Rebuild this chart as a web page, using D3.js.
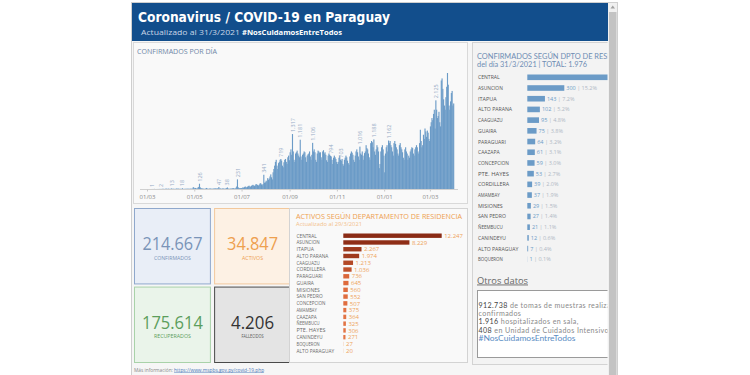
<!DOCTYPE html>
<html><head><meta charset="utf-8">
<script src="https://cdn.jsdelivr.net/npm/d3@7"></script>
<style>body{margin:0;background:#fff}svg{display:block}</style>
</head><body>
<svg id="c" width="750" height="375"></svg>
<script>
// ---------- DATA ----------
const startDate = "2020-03-01";
const mar2020 = [0,0,0,0,0,0,1,0,1,3,0,0,1,1,1,2,2,2,1,5,4,5,0,5,11,4,4,8,5,1,7];
const apr2020 = [13,3,7,4,3,2,9,14,4,9,5,2,8,1,18,4,2,6,5,4,10,5,7,5,6,11,5,10,45,30];
const may2020 = [15,25,10,12,35,50,126,40,20,15,10,8,5,6,10,25,12,8,5,10,12,8,7,6,10,8,20,12,10,14,15];
const jun2020 = [47,10,12,8,6,15,10,8,5,14,20,38,12,8,6,9,10,14,20,18,10,8,30,60,231,40,25,20,18,22];
const jul2020 = [25,40,30,45,60,50,35,55,70,80,60,55,75,90,100,85,70,90,120,110,95,80,100,130,140,110,90,120,341,150,160];
const aug2020 = [200,180,260,220,250,300,350,280,230,400,480,560,650,700,560,480,620,650,700,719,680,560,520,640,700,720,650,600,760,800,690];
const sep2020 = [880,950,820,1317,900,700,650,850,880,920,850,800,760,1181,780,700,820,850,900,880,760,650,800,830,850,900,780,700,820,1106];
const oct2020 = [900,950,880,700,650,850,920,900,870,880,760,700,900,930,850,880,820,690,650,800,850,820,794,780,700,600,750,800,760,720,650];
const nov2020 = [600,650,750,800,703,680,720,600,560,700,750,800,760,680,620,580,780,850,900,870,820,700,650,800,900,950,880,780,700,1016];
const dec2020 = [850,820,900,800,700,860,900,1050,980,950,850,760,700,1100,1150,1120,1000,1188,900,820,950,1050,1000,900,500,600,900,1000,1050,950,800];
const jan2021 = [400,850,1000,1050,900,1162,1100,1150,1050,1000,900,800,1100,1150,1080,1000,950,850,800,1050,1100,1000,950,880,750,700,950,1000,900,850,700];
const feb2021 = [800,750,900,950,1000,980,850,800,950,1000,1050,1000,900,850,1100,1420,1150,1000,1050,1300,1200,1450,1380,1250,1400,1350,1200,1150];
const mar2021 = [1500,1600,1700,1650,1800,1900,1450,2125,1900,1700,1750,1850,1600,1500,2600,2650,2400,2150,2000,1900,2200,2450,2780,2500,2000,1900,2100,2300,2350,2000,2050];
const labeledDays = ["2020-03-07","2020-03-18","2020-04-01","2020-04-15","2020-05-07","2020-06-01","2020-06-12","2020-06-25","2020-07-29","2020-08-20","2020-09-04","2020-09-14","2020-09-30","2020-10-23","2020-11-05","2020-11-30","2020-12-18","2021-01-06","2021-03-08"];

const kpiLabels = ["CONFIRMADOS","ACTIVOS","RECUPERADOS","FALLECIDOS"];
const kpiValues = [214667, 34847, 175614, 4206];

const activosDeptos = ["CENTRAL","ASUNCION","ITAPUA","ALTO PARANA","CAAGUAZU","CORDILLERA","PARAGUARI","GUAIRA","MISIONES","SAN PEDRO","CONCEPCION","AMAMBAY","CAAZAPA","ÑEEMBUCU","PTE. HAYES","CANINDEYU","BOQUERON","ALTO PARAGUAY"];
const activosValues = [12247,8229,2267,1974,1213,1036,736,645,560,552,507,375,364,325,306,271,27,20];

const confDeptos = ["CENTRAL","ASUNCION","ITAPUA","ALTO PARANA","CAAGUAZU","GUAIRA","PARAGUARI","CAAZAPA","CONCEPCION","PTE. HAYES","CORDILLERA","AMAMBAY","MISIONES","SAN PEDRO","ÑEEMBUCU","CANINDEYU","ALTO PARAGUAY","BOQUERON"];
const confValues = [851,300,143,102,95,75,64,61,59,53,39,37,29,27,21,12,7,1];
const confTotal = 1976;

const otros = [
  {num:"912.738", txt:" de tomas de muestras realizadas"},
  {num:"", txt:"confirmados"},
  {num:"1.916", txt:" hospitalizados en sala,"},
  {num:"408", txt:" en Unidad de Cuidados Intensivos"}
];

// ---------- HELPERS ----------
const loc = d3.formatLocale({decimal:",", thousands:".", grouping:[3], currency:["",""]});
const fmt = loc.format(",d");
const pct = v => (v*100).toFixed(1) + "%";
const svg = d3.select("#c");
const F = "'Open Sans', 'DejaVu Sans', sans-serif";
const L = "Lato, 'Open Sans', sans-serif";

function txt(g, x, y, s, o = {}) {
  const t = g.append("text").attr("x", x).attr("y", y).text(s)
    .attr("font-family", o.ff || F).attr("font-size", o.fs || 6)
    .attr("fill", o.fill || "#666").attr("text-anchor", o.anchor || "start");
  if (o.fw) t.attr("font-weight", o.fw);
  if (o.tl) t.attr("textLength", o.tl).attr("lengthAdjust", "spacingAndGlyphs");
  return t;
}

// ---------- FRAME ----------
svg.append("rect").attr("x",131.5).attr("y",2.5).attr("width",486).attr("height",380)
  .attr("fill","#f6f6f6").attr("stroke","#cfcfcf");
svg.append("rect").attr("x",132).attr("y",3).attr("width",476).attr("height",38).attr("fill","#124e8c");
txt(svg, 138, 22, "Coronavirus / COVID-19 en Paraguay", {ff:"'DejaVu Sans', sans-serif", fs:14, fw:"bold", fill:"#fff", tl:252});
txt(svg, 141, 35, "Actualizado al 31/3/2021", {fs:8, fill:"#c9d5e6", tl:99});
txt(svg, 242, 35, "#NosCuidamosEntreTodos", {fs:7.5, fw:"bold", fill:"#fff", tl:100});

// scrollbar
svg.append("rect").attr("x",608).attr("y",3).attr("width",9).attr("height",372).attr("fill","#f0f0f0");
svg.append("rect").attr("x",609).attr("y",12).attr("width",7.5).attr("height",363).attr("fill","#c3c3c3");
svg.append("path").attr("d","M610.5,8.5 L612.75,5.5 L615,8.5 Z").attr("fill","#a0a0a0");

// ---------- DAILY CHART ----------
const daily = [mar2020,apr2020,may2020,jun2020,jul2020,aug2020,sep2020,oct2020,nov2020,dec2020,jan2021,feb2021,mar2021].flat();
const parse = d3.utcParse("%Y-%m-%d");
const d0 = parse(startDate);
const dailyData = daily.map((v,i) => ({date: d3.utcDay.offset(d0, i), v}));
const dEnd = d3.utcDay.offset(d0, daily.length);

const p1 = svg.append("g");
p1.append("rect").attr("x",133.5).attr("y",42.5).attr("width",334).attr("height",161).attr("fill","#f9f9f9").attr("stroke","#d9d9d9");
txt(p1, 137, 54, "CONFIRMADOS POR DÍA", {fs:7, fill:"#6f86a6", tl:80});

const x = d3.scaleUtc().domain([d0, dEnd]).range([147, 147 + daily.length*0.775]);
const y = d3.scaleLinear().domain([0, 2780]).range([189, 73]);

p1.append("g").selectAll("rect").data(dailyData).join("rect")
  .attr("x", d => x(d.date))
  .attr("width", d => x(d3.utcDay.offset(d.date,1)) - x(d.date) + 0.35)
  .attr("y", d => y(d.v)).attr("height", d => y(0) - y(d.v))
  .attr("fill", "#6b9bc7");

const labSet = new Set(labeledDays);
const labData = dailyData.filter(d => labSet.has(d3.utcFormat("%Y-%m-%d")(d.date)));
p1.append("g").selectAll("text").data(labData).join("text")
  .attr("transform", d => `translate(${x(d.date)+2.6},${y(d.v)-2}) rotate(-90)`)
  .attr("font-family", F).attr("font-size", 5.5).attr("fill", "#98acc6")
  .text(d => fmt(d.v));

const xAxis = d3.axisBottom(x).ticks(d3.utcMonth.every(2)).tickFormat(d3.utcFormat("%d/%m")).tickSize(2).tickPadding(3);
const ax = p1.append("g").attr("transform","translate(0,189.5)").call(xAxis);
ax.select(".domain").attr("stroke","#d0d0d0").attr("d","M140,0H458");
ax.selectAll(".tick line").attr("stroke","#c8c8c8");
ax.selectAll(".tick text").attr("font-family",F).attr("font-size",6).attr("fill","#8a8a8a");

// ---------- KPI ----------
const kpiStyle = [
  {fill:"#e9eef7", stroke:"#8fa8cc", num:"#7a94b8", lab:"#7a94b8"},
  {fill:"#fdf1e4", stroke:"#f2c89c", num:"#eea04f", lab:"#eea04f"},
  {fill:"#eaf4ea", stroke:"#a9d2a9", num:"#5c9e5c", lab:"#5c9e5c"},
  {fill:"#e4e4e4", stroke:"#4a4a4a", num:"#333333", lab:"#555555"}
];
const kx = d3.scaleBand().domain([0,1]).range([134, 291]).paddingInner(0.04);
const ky = d3.scaleBand().domain([0,1]).range([208.5, 362.5]).paddingInner(0.04);
const numW = [60, 51, 61, 43], labW = [37, 21, 37, 22];
kpiLabels.forEach((lab, i) => {
  const cx = i % 2, cy = Math.floor(i / 2), s = kpiStyle[i];
  const bx = kx(cx), by = ky(cy), bw = kx.bandwidth(), bh = ky.bandwidth();
  svg.append("rect").attr("x",bx+0.5).attr("y",by).attr("width",bw-1).attr("height",bh)
    .attr("fill",s.fill).attr("stroke",s.stroke).attr("stroke-width",1);
  txt(svg, bx+bw/2, by+bh*0.555, fmt(kpiValues[i]), {fs:18, fill:s.num, anchor:"middle", tl:numW[i]});
  txt(svg, bx+bw/2, by+bh*0.555+9.5, lab, {fs:5, fill:s.lab, anchor:"middle", tl:labW[i]});
});
const info = svg.append("text").attr("x",134).attr("y",371.5).attr("font-family",F).attr("font-size",4.8).attr("fill","#888");
info.append("tspan").text("Más información: ");
info.append("tspan").text("https://www.mspbs.gov.py/covid-19.php").attr("fill","#4a78b8").attr("text-decoration","underline");

// ---------- ACTIVOS PANEL ----------
const p2 = svg.append("g");
p2.append("rect").attr("x",289.5).attr("y",208.5).attr("width",178).attr("height",154).attr("fill","#f9f9f9").attr("stroke","#d3d3d3");
txt(p2, 296, 219, "ACTIVOS SEGÚN DEPARTAMENTO DE RESIDENCIA", {fs:8, fill:"#eea04f", tl:166});
txt(p2, 296, 225.5, "Actualizado al 29/3/2021", {fs:5.5, fill:"#f3c08a", tl:66});
const ay = d3.scalePoint().domain(activosDeptos).range([235.7, 350.7]);
const axs = d3.scaleLinear().domain([0, d3.max(activosValues)]).range([343.3, 441.7]);
const acol = d3.scaleLog().domain([20, 700, 1500, 12247]).range(["#f29a63","#de6a3c","#a23c1f","#8a2b15"]).clamp(true);
activosDeptos.forEach((d, i) => {
  const v = activosValues[i], yy = ay(d);
  txt(p2, 296.5, yy+1.8, d, {fs:5, fill:"#6a6a6a", tl: d.length*2.9});
  p2.append("rect").attr("x", axs(0)).attr("y", yy-2.2).attr("width", axs(v)-axs(0)).attr("height", 4.4).attr("fill", acol(v));
  txt(p2, axs(v)+2.5, yy+2.2, fmt(v), {fs:6, fill:"#eea35a"});
});

// ---------- RIGHT PANEL ----------
svg.append("clipPath").attr("id","rc").append("rect").attr("x",470).attr("y",40).attr("width",137.5).attr("height",330);
const p3 = svg.append("g").attr("clip-path","url(#rc)");
p3.append("rect").attr("x",472.5).attr("y",42.5).attr("width",150).attr("height",322).attr("fill","#f3f3f3").attr("stroke","#d3d3d3");
txt(p3, 477, 58.5, "CONFIRMADOS SEGÚN DPTO DE RESIDENCIA", {ff:L, fs:6.6, fill:"#6e8db3", tl:160});
txt(p3, 477, 66.5, `del día 31/3/2021 | TOTAL: ${fmt(confTotal)}`, {ff:L, fs:6.6, fill:"#6e8db3", tl:110});
const ry = d3.scalePoint().domain(confDeptos).range([77.3, 259.3]);
const rx = d3.scaleLinear().domain([0, 300]).range([527.3, 564.3]);
confDeptos.forEach((d, i) => {
  const v = confValues[i], yy = ry(d);
  txt(p3, 478, yy+2, d, {fs:5.2, fill:"#555", tl: d.length*3.1});
  p3.append("rect").attr("x", rx(0)).attr("y", yy-2.8).attr("width", rx(v)-rx(0)).attr("height", 5.6).attr("fill", "#6b9bc7");
  const t = p3.append("text").attr("x", rx(v)+2).attr("y", yy+2).attr("font-family",F).attr("font-size",5.5);
  t.append("tspan").text(fmt(v)).attr("fill","#6b9bc7");
  t.append("tspan").text(" | " + pct(v/confTotal)).attr("fill","#b0b8c4");
});
const od = txt(p3, 477, 283.5, "Otros datos", {fs:9, fill:"#666", tl:51});
od.attr("text-decoration","underline");
p3.append("rect").attr("x",477.5).attr("y",290.5).attr("width",140).attr("height",67).attr("fill","#fff").attr("stroke","#9a9a9a");
otros.forEach((o, i) => {
  const t = p3.append("text").attr("x",478.5).attr("y",307.5 + i*8.4).attr("font-family",L).attr("font-size",7.1).attr("letter-spacing",0.4);
  if (o.num) t.append("tspan").text(o.num).attr("fill","#444");
  t.append("tspan").text(o.txt).attr("fill","#8a8a8a");
});
txt(p3, 478.5, 341.1, "#NosCuidamosEntreTodos", {ff:L, fs:7.1, fill:"#5a8dc4", tl:97});
</script>
</body></html>
